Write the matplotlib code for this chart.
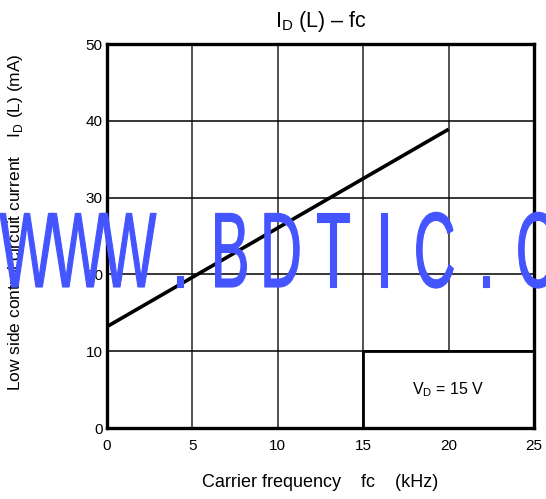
import matplotlib
matplotlib.use("Agg")
import matplotlib.pyplot as plt
from matplotlib.patches import Rectangle, PathPatch
from matplotlib.textpath import TextPath
from matplotlib.font_manager import FontProperties
from matplotlib.transforms import Affine2D, IdentityTransform

plt.rcParams['font.family'] = ['Liberation Sans', 'DejaVu Sans']
plt.rcParams['mathtext.fontset'] = 'custom'
plt.rcParams['mathtext.rm'] = 'Liberation Sans'

# data
fc_khz = [0, 20]
id_ma = [13.2, 38.9]
x_ticks = [0, 5, 10, 15, 20, 25]
y_ticks = [0, 10, 20, 30, 40, 50]
note_text = r'V$_\mathregular{D}$ = 15 V'
watermark = "WWW.BDTIC.C"

fig = plt.figure(figsize=(5.46, 4.99), dpi=100)
ax = fig.add_axes([107 / 546, 1 - 428 / 499, 427 / 546, 384 / 499])

ax.set_xlim(0, 25)
ax.set_ylim(0, 50)
ax.set_xticks(x_ticks)
ax.set_yticks(y_ticks)
ax.tick_params(length=0, labelsize=11)
ax.tick_params(axis='x', pad=8)
ax.tick_params(axis='y', pad=3)

# grid
for x in x_ticks[1:-1]:
    ax.axvline(x, color='#222222', lw=1.1, zorder=1)
for y in y_ticks[1:-1]:
    ax.axhline(y, color='black', lw=1.1, zorder=1)

# condition box
ax.add_patch(Rectangle((15, 0), 10, 10, facecolor='white', edgecolor='black',
                       lw=2.0, zorder=2))
ax.text(20, 5, note_text, ha='center', va='center', fontsize=11.5, zorder=3)

ax.plot(fc_khz, id_ma, color='black', lw=2.6, zorder=4, solid_capstyle='butt')

for s in ax.spines.values():
    s.set_linewidth(2.4)
    s.set_zorder(5)

ax.set_title(r'I$_\mathregular{D}$ (L) – fc', fontsize=15.5, pad=12)
ax.set_xlabel('Carrier frequency    fc    (kHz)', fontsize=13, labelpad=15)
ax.set_ylabel(r'Low side control circuit current    I$_\mathregular{D}$ (L) (mA)',
              fontsize=12.5)
ax.yaxis.set_label_coords(-0.192, 0.536)

# watermark: condensed letters on a fixed pitch
prop = FontProperties(family='Liberation Sans')
for i, ch in enumerate(watermark):
    tp = TextPath((0, 0), ch, size=1, prop=prop)
    ext = tp.get_extents()
    cx = (ext.x0 + ext.x1) / 2
    tr = (Affine2D().translate(-cx, 0).scale(58, 107)
          .translate(27 + 51 * i, 499 - 287) + IdentityTransform())
    fig.patches.append(PathPatch(tp, facecolor='#4455ff', edgecolor='#4455ff',
                                 lw=0.8, joinstyle='miter',
                                 transform=tr, figure=fig, zorder=10))

fig.savefig('out.png', dpi=100)
